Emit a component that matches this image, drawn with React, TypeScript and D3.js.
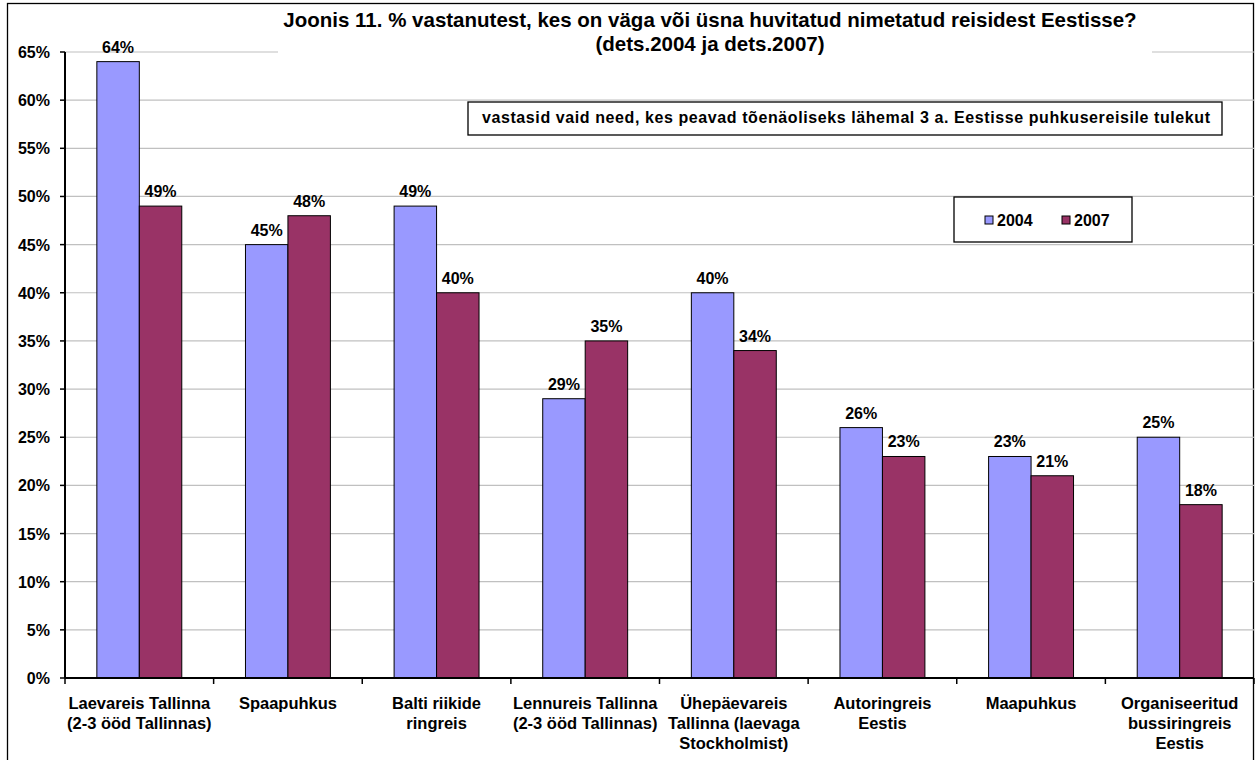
import React from "react";
import * as d3 from "d3";

const categories: string[][] = [
  ["Laevareis Tallinna", "(2-3 ööd Tallinnas)"],
  ["Spaapuhkus"],
  ["Balti riikide", "ringreis"],
  ["Lennureis Tallinna", "(2-3 ööd Tallinnas)"],
  ["Ühepäevareis", "Tallinna (laevaga", "Stockholmist)"],
  ["Autoringreis", "Eestis"],
  ["Maapuhkus"],
  ["Organiseeritud", "bussiringreis", "Eestis"],
];
const seriesNames = ["2004", "2007"];
const values2004 = [64, 45, 49, 29, 40, 26, 23, 25];
const values2007 = [49, 48, 40, 35, 34, 23, 21, 18];
const yTicks = [0, 5, 10, 15, 20, 25, 30, 35, 40, 45, 50, 55, 60, 65];
const titleLines = [
  "Joonis 11. % vastanutest, kes on väga või üsna huvitatud nimetatud reisidest Eestisse?",
  "(dets.2004 ja dets.2007)",
];
const noteText =
  "vastasid vaid need, kes peavad tõenäoliseks lähemal 3 a. Eestisse puhkusereisile tulekut";
const colors = ["#9999FF", "#993366"];

const W = 1257;
const H = 760;
const FONT = "'Liberation Sans', Arial, Helvetica, sans-serif";

export default function App() {
  const left = 65;
  const right = 1254;
  const top = 52;
  const bottom = 678;
  const idx = categories.map((_, i) => i);
  const x = d3.scaleBand<number>().domain(idx).range([left, right]).padding(0);
  const bw = x.bandwidth();
  const groupW = (bw * 2) / 3.5;
  const xs = d3
    .scaleBand<string>()
    .domain(seriesNames)
    .range([(bw - groupW) / 2, (bw + groupW) / 2])
    .padding(0);
  const y = d3.scaleLinear().domain([0, 65]).range([bottom, top]);
  const series = [values2004, values2007];

  return (
    <div style={{ position: "absolute", left: 0, top: 0 }}>
      <svg width={W} height={H} style={{ display: "block" }} fontFamily={FONT}>
        <rect x={0} y={0} width={W} height={H} fill="#fff" />
        {/* outer border */}
        <rect x={7.5} y={3.5} width={1246} height={H + 10} fill="none" stroke="#000" strokeWidth={1.3} />
        {/* gridlines */}
        {yTicks.filter((t) => t > 0).map((t) => (
          <line key={t} x1={left} x2={right} y1={y(t)} y2={y(t)} stroke="#c0c0c0" strokeWidth={1.2} />
        ))}
        {/* title background */}
        <rect x={278} y={5} width={874} height={55} fill="#fff" />
        {titleLines.map((l, i) => (
          <text key={i} x={710} y={27 + i * 24} textAnchor="middle" fontSize={20.5} fontWeight="bold">
            {l}
          </text>
        ))}
        {/* bars */}
        {series.map((vals, s) =>
          vals.map((v, i) => {
            const bx = (x(i) as number) + (xs(seriesNames[s]) as number);
            return (
              <g key={`${s}-${i}`}>
                <rect
                  x={bx}
                  y={y(v)}
                  width={xs.bandwidth()}
                  height={y(0) - y(v)}
                  fill={colors[s]}
                  stroke="#000"
                  strokeWidth={1}
                />
                <text x={bx + xs.bandwidth() / 2} y={y(v) - 9} textAnchor="middle" fontSize={16} fontWeight="bold">
                  {v}%
                </text>
              </g>
            );
          })
        )}
        {/* y axis */}
        <line x1={left} x2={left} y1={top} y2={bottom} stroke="#000" strokeWidth={2} />
        {yTicks.map((t) => (
          <g key={t}>
            <line x1={left - 5} x2={left} y1={y(t)} y2={y(t)} stroke="#000" strokeWidth={1.5} />
            <text x={50} y={y(t) + 6} textAnchor="end" fontSize={16} fontWeight="bold">
              {t}%
            </text>
          </g>
        ))}
        {/* x axis */}
        <line x1={left} x2={right} y1={bottom} y2={bottom} stroke="#000" strokeWidth={2} />
        {idx.concat([idx.length]).map((i) => {
          const tx = i < idx.length ? (x(i) as number) : right;
          return <line key={i} x1={tx} x2={tx} y1={bottom} y2={bottom + 6} stroke="#000" strokeWidth={1.5} />;
        })}
        {categories.map((lines, i) => (
          <text key={i} textAnchor="middle" fontSize={16.5} fontWeight="bold">
            {lines.map((l, j) => (
              <tspan key={j} x={(x(i) as number) + bw / 2} y={709 + j * 20}>
                {l}
              </tspan>
            ))}
          </text>
        ))}
        {/* note box */}
        <rect x={468} y={102} width={754} height={33} fill="#fff" stroke="#000" strokeWidth={1.3} />
        <text x={482} y={123} fontSize={16} fontWeight="bold" textLength={728} lengthAdjust="spacing">
          {noteText}
        </text>
        {/* legend */}
        <rect x={954} y={197} width={178} height={45} fill="#fff" stroke="#000" strokeWidth={1.3} />
        {seriesNames.map((n, s) => (
          <g key={n}>
            <rect x={985 + s * 77} y={216} width={8} height={8} fill={colors[s]} stroke="#000" strokeWidth={1} />
            <text x={997 + s * 77} y={226} fontSize={16} fontWeight="bold">
              {n}
            </text>
          </g>
        ))}
      </svg>
    </div>
  );
}
